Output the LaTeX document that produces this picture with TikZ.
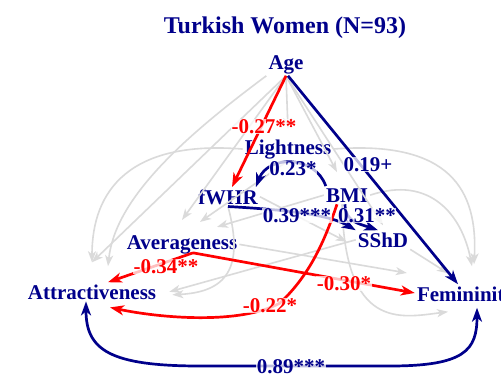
\documentclass[tikz,border=0pt]{standalone}
\usepackage{fontspec}
\setmainfont{Liberation Serif}
\usetikzlibrary{arrows.meta}
\definecolor{nblue}{RGB}{0,0,139}
\definecolor{nred}{RGB}{255,0,0}
\definecolor{lgray}{RGB}{218,218,218}
\begin{document}
\begin{tikzpicture}[x=1pt,y=-1pt,
  lab/.style={font=\bfseries\fontsize{21}{21}\selectfont, text=nblue, anchor=base, inner sep=2pt},
  elab/.style={font=\bfseries\fontsize{21}{21}\selectfont, anchor=base, inner sep=0.5pt, fill=white, fill opacity=0.75, text opacity=1},
  garr/.style={draw=lgray, line width=1.6pt, -{Stealth[length=11pt,width=8pt,inset=3pt]}},
  barr/.style={draw=nblue, line width=2.7pt, -{Stealth[length=14pt,width=10pt,inset=4pt]}},
  rarr/.style={draw=nred, line width=2.7pt, -{Stealth[length=14pt,width=10pt,inset=4pt]}}]
\useasboundingbox (0,0) rectangle (501,380);
\fill[white] (0,0) rectangle (501,380);
% nodes
\node[font=\bfseries\fontsize{24}{24}\selectfont, text=nblue, anchor=base] (title) at (285,33) {Turkish Women (N=93)};
\node[lab] (age) at (286,69) {Age};
\node[lab] (light) at (288,154) {Lightness};
\node[lab] (fwhr) at (228,204) {fWHR};
\node[lab] (bmi) at (347,202) {BMI};
\node[lab] (avg) at (182,249) {Averageness};
\node[lab] (sshd) at (383,247) {SShD};
\node[lab] (attr) at (92,299) {Attractiveness};
\node[lab] (fem) at (466,301) {Femininity};
% gray (non-significant) paths
\draw[garr] (age.south) -- ([yshift=8pt]light.north);
\draw[garr] (age.south) -- ([xshift=-10pt,yshift=14pt]bmi.north);
\draw[garr] (age.south) -- ([yshift=13pt]avg.north);
\draw[garr] (age.south) -- ([yshift=20pt]attr.north);
\draw[garr] (age.south) -- ([yshift=5pt]sshd.north);
\draw[garr] (light.south) -- ([xshift=18pt,yshift=11pt]avg.north);
\draw[garr] (bmi.west) -- ([xshift=35pt,yshift=6pt]avg.north);
\draw[garr] (light.west) .. controls (130,140) and (92,190) .. ([yshift=20pt]attr.north);
\draw[garr] (age.south west) .. controls (180,140) and (115,200) .. ([xshift=16pt,yshift=16pt]attr.north);
\draw[garr] (light.east) .. controls (450,140) and (478,190) .. ([xshift=8pt,yshift=20pt]fem.north);
\draw[garr] (bmi.east) .. controls (430,175) and (462,215) .. ([xshift=6pt,yshift=18pt]fem.north);
\draw[garr] (sshd.west) -- ([xshift=11pt]attr.east);
\draw[garr] (fwhr.south) .. controls (245,270) and (225,292) .. ([xshift=14pt,yshift=-3pt]attr.east);
\draw[garr] (avg.east) -- ([xshift=-8pt,yshift=23pt]fem.west);
\draw[garr] (sshd.south east) -- ([xshift=-18pt,yshift=11pt]fem.north);
\draw[garr] ([xshift=-5pt]bmi.south) .. controls (345,330) and (400,318) .. ([xshift=-18pt,yshift=-4pt]fem.south);
\draw[garr] (fwhr.east) -- ([xshift=-9pt,yshift=-2pt]sshd.west);
% significant paths
\draw[rarr] (age.south) -- ([xshift=4pt]fwhr.north);
\draw[barr] ([xshift=2pt]age.south) -- ([xshift=-8pt]fem.north);
\draw[barr] ([xshift=2pt]bmi.north west) .. controls (315,155) and (268,155) .. ([xshift=-4pt]fwhr.north east);
\draw[barr] (fwhr.south) .. controls (290,210) and (330,215) .. (sshd.north west);
\draw[barr] ([xshift=-2pt]bmi.south) .. controls (345,222) and (360,224) .. ([xshift=-5pt]sshd.north);
\draw[rarr] ([xshift=-10pt]bmi.south) .. controls (325,240) and (310,275) .. (280,303) .. controls (240,325) and (160,318) .. ([xshift=18pt,yshift=-6pt]attr.south);
\draw[rarr] ([xshift=11pt,yshift=3pt]avg.south) -- ([xshift=16pt]attr.north);
\draw[rarr] ([xshift=11pt,yshift=3pt]avg.south) -- ([yshift=3pt]fem.west);
\draw[draw=nblue, line width=2.7pt, {Stealth[length=14pt,width=10pt,inset=4pt]}-{Stealth[length=14pt,width=10pt,inset=4pt]}]
  ([xshift=-6pt]attr.south) .. controls (86,350) and (110,366) .. (200,366) -- (390,366) .. controls (465,366) and (477,350) .. ([xshift=11pt]fem.south);
% labels
\node[elab, text=nred] (l1) at (264,133) {-0.27**};
\node[elab, text=nblue] (l2) at (293,175) {0.23*};
\node[elab, text=nblue] (l3) at (368,171) {0.19+};
\node[elab, text=nblue] (l4) at (297,222) {0.39***};
\node[elab, text=nblue] (l5) at (367,222) {0.31**};
\node[elab, text=nred] (l6) at (166,273) {-0.34**};
\node[elab, text=nred] (l7) at (344,290) {-0.30*};
\node[elab, text=nred] (l8) at (270,312) {-0.22*};
\node[elab, text=nblue] (l9) at (291,373) {0.89***};
\end{tikzpicture}
\end{document}
